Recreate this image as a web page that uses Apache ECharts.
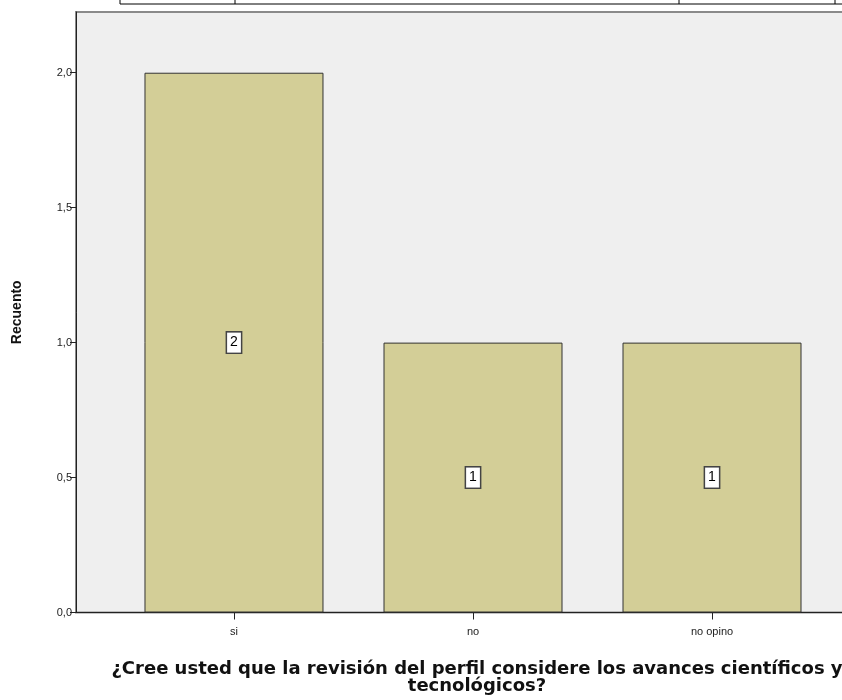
<!DOCTYPE html>
<html>
<head>
<meta charset="utf-8">
<script src="https://cdn.jsdelivr.net/npm/echarts@6/dist/echarts.min.js"></script>
<style>
  html, body { margin: 0; padding: 0; background: #fff; overflow: hidden; }
  #chart { width: 870px; height: 700px; }
</style>
</head>
<body>
<div id="chart"></div>
<script>
// datos
const categories = ['si', 'no', 'no opino']
const counts = [2, 1, 1]

const chart = echarts.init(document.getElementById('chart'))

const barData = counts.map(function (v, i) { return [i, v] })
const catIdx = categories.map(function (c, i) { return i })

// el grafico original sale recortado por la derecha (lienzo de 870px en ventana de 842)
chart.setOption({
  animation: false,
  backgroundColor: '#fff',
  grid: {
    left: 76,
    top: 12,
    bottom: 85,
    right: 0,
    show: true,
    backgroundColor: '#efefef',
    borderColor: '#8a8a8a',
    borderWidth: 2
  },
  graphic: [
    { type: 'line', shape: { x1: 120, y1: 4, x2: 842, y2: 4 }, style: { stroke: '#000', lineWidth: 1 } },
    { type: 'line', shape: { x1: 120, y1: 0, x2: 120, y2: 4 }, style: { stroke: '#000', lineWidth: 1 } },
    { type: 'line', shape: { x1: 235, y1: 0, x2: 235, y2: 4 }, style: { stroke: '#000', lineWidth: 1 } },
    { type: 'line', shape: { x1: 679, y1: 0, x2: 679, y2: 4 }, style: { stroke: '#000', lineWidth: 1 } },
    { type: 'line', shape: { x1: 835, y1: 0, x2: 835, y2: 4 }, style: { stroke: '#000', lineWidth: 1 } }
  ],
  xAxis: {
    type: 'value',
    min: -0.661,
    max: 2.661,
    name: '¿Cree usted que la revisión del perfil considere los avances científicos y\ntecnológicos?',
    nameLocation: 'middle',
    nameGap: 48,
    nameTextStyle: {
      fontFamily: 'DejaVu Sans',
      fontWeight: 'bold',
      fontSize: 18,
      color: '#111',
      lineHeight: 17,
      padding: [0, 0, 0, 8]
    },
    splitLine: { show: false },
    axisLine: { lineStyle: { color: '#222', width: 1 } },
    axisTick: {
      customValues: catIdx,
      length: 7,
      lineStyle: { color: '#222' }
    },
    axisLabel: {
      customValues: catIdx,
      margin: 14,
      fontFamily: 'Liberation Sans',
      fontSize: 11,
      color: '#222',
      formatter: function (v) { return categories[Math.round(v)] }
    }
  },
  yAxis: {
    type: 'value',
    min: 0,
    max: 2.225,
    interval: 0.5,
    name: 'Recuento',
    nameLocation: 'middle',
    nameGap: 52,
    nameTextStyle: {
      fontFamily: 'Liberation Sans',
      fontWeight: 'bold',
      fontSize: 14,
      color: '#111'
    },
    splitLine: { show: false },
    axisLine: { show: true, onZero: false, lineStyle: { color: '#222', width: 1 } },
    axisTick: { show: true, length: 6, lineStyle: { color: '#222' } },
    axisLabel: {
      showMaxLabel: false,
      margin: 4,
      fontFamily: 'Liberation Sans',
      fontSize: 11,
      color: '#222',
      formatter: function (v) { return v.toFixed(1).replace('.', ',') }
    }
  },
  series: [{
    type: 'bar',
    data: barData,
    barWidth: 179,
    itemStyle: {
      color: '#d3ce97',
      borderColor: '#333',
      borderWidth: 1
    },
    label: {
      show: true,
      position: 'inside',
      formatter: function (p) { return String(p.value[1]) },
      fontFamily: 'Liberation Sans',
      fontSize: 14,
      color: '#000',
      backgroundColor: '#fff',
      borderColor: '#444',
      borderWidth: 1.5,
      padding: [4, 3, 2, 3]
    }
  }]
})
</script>
</body>
</html>
